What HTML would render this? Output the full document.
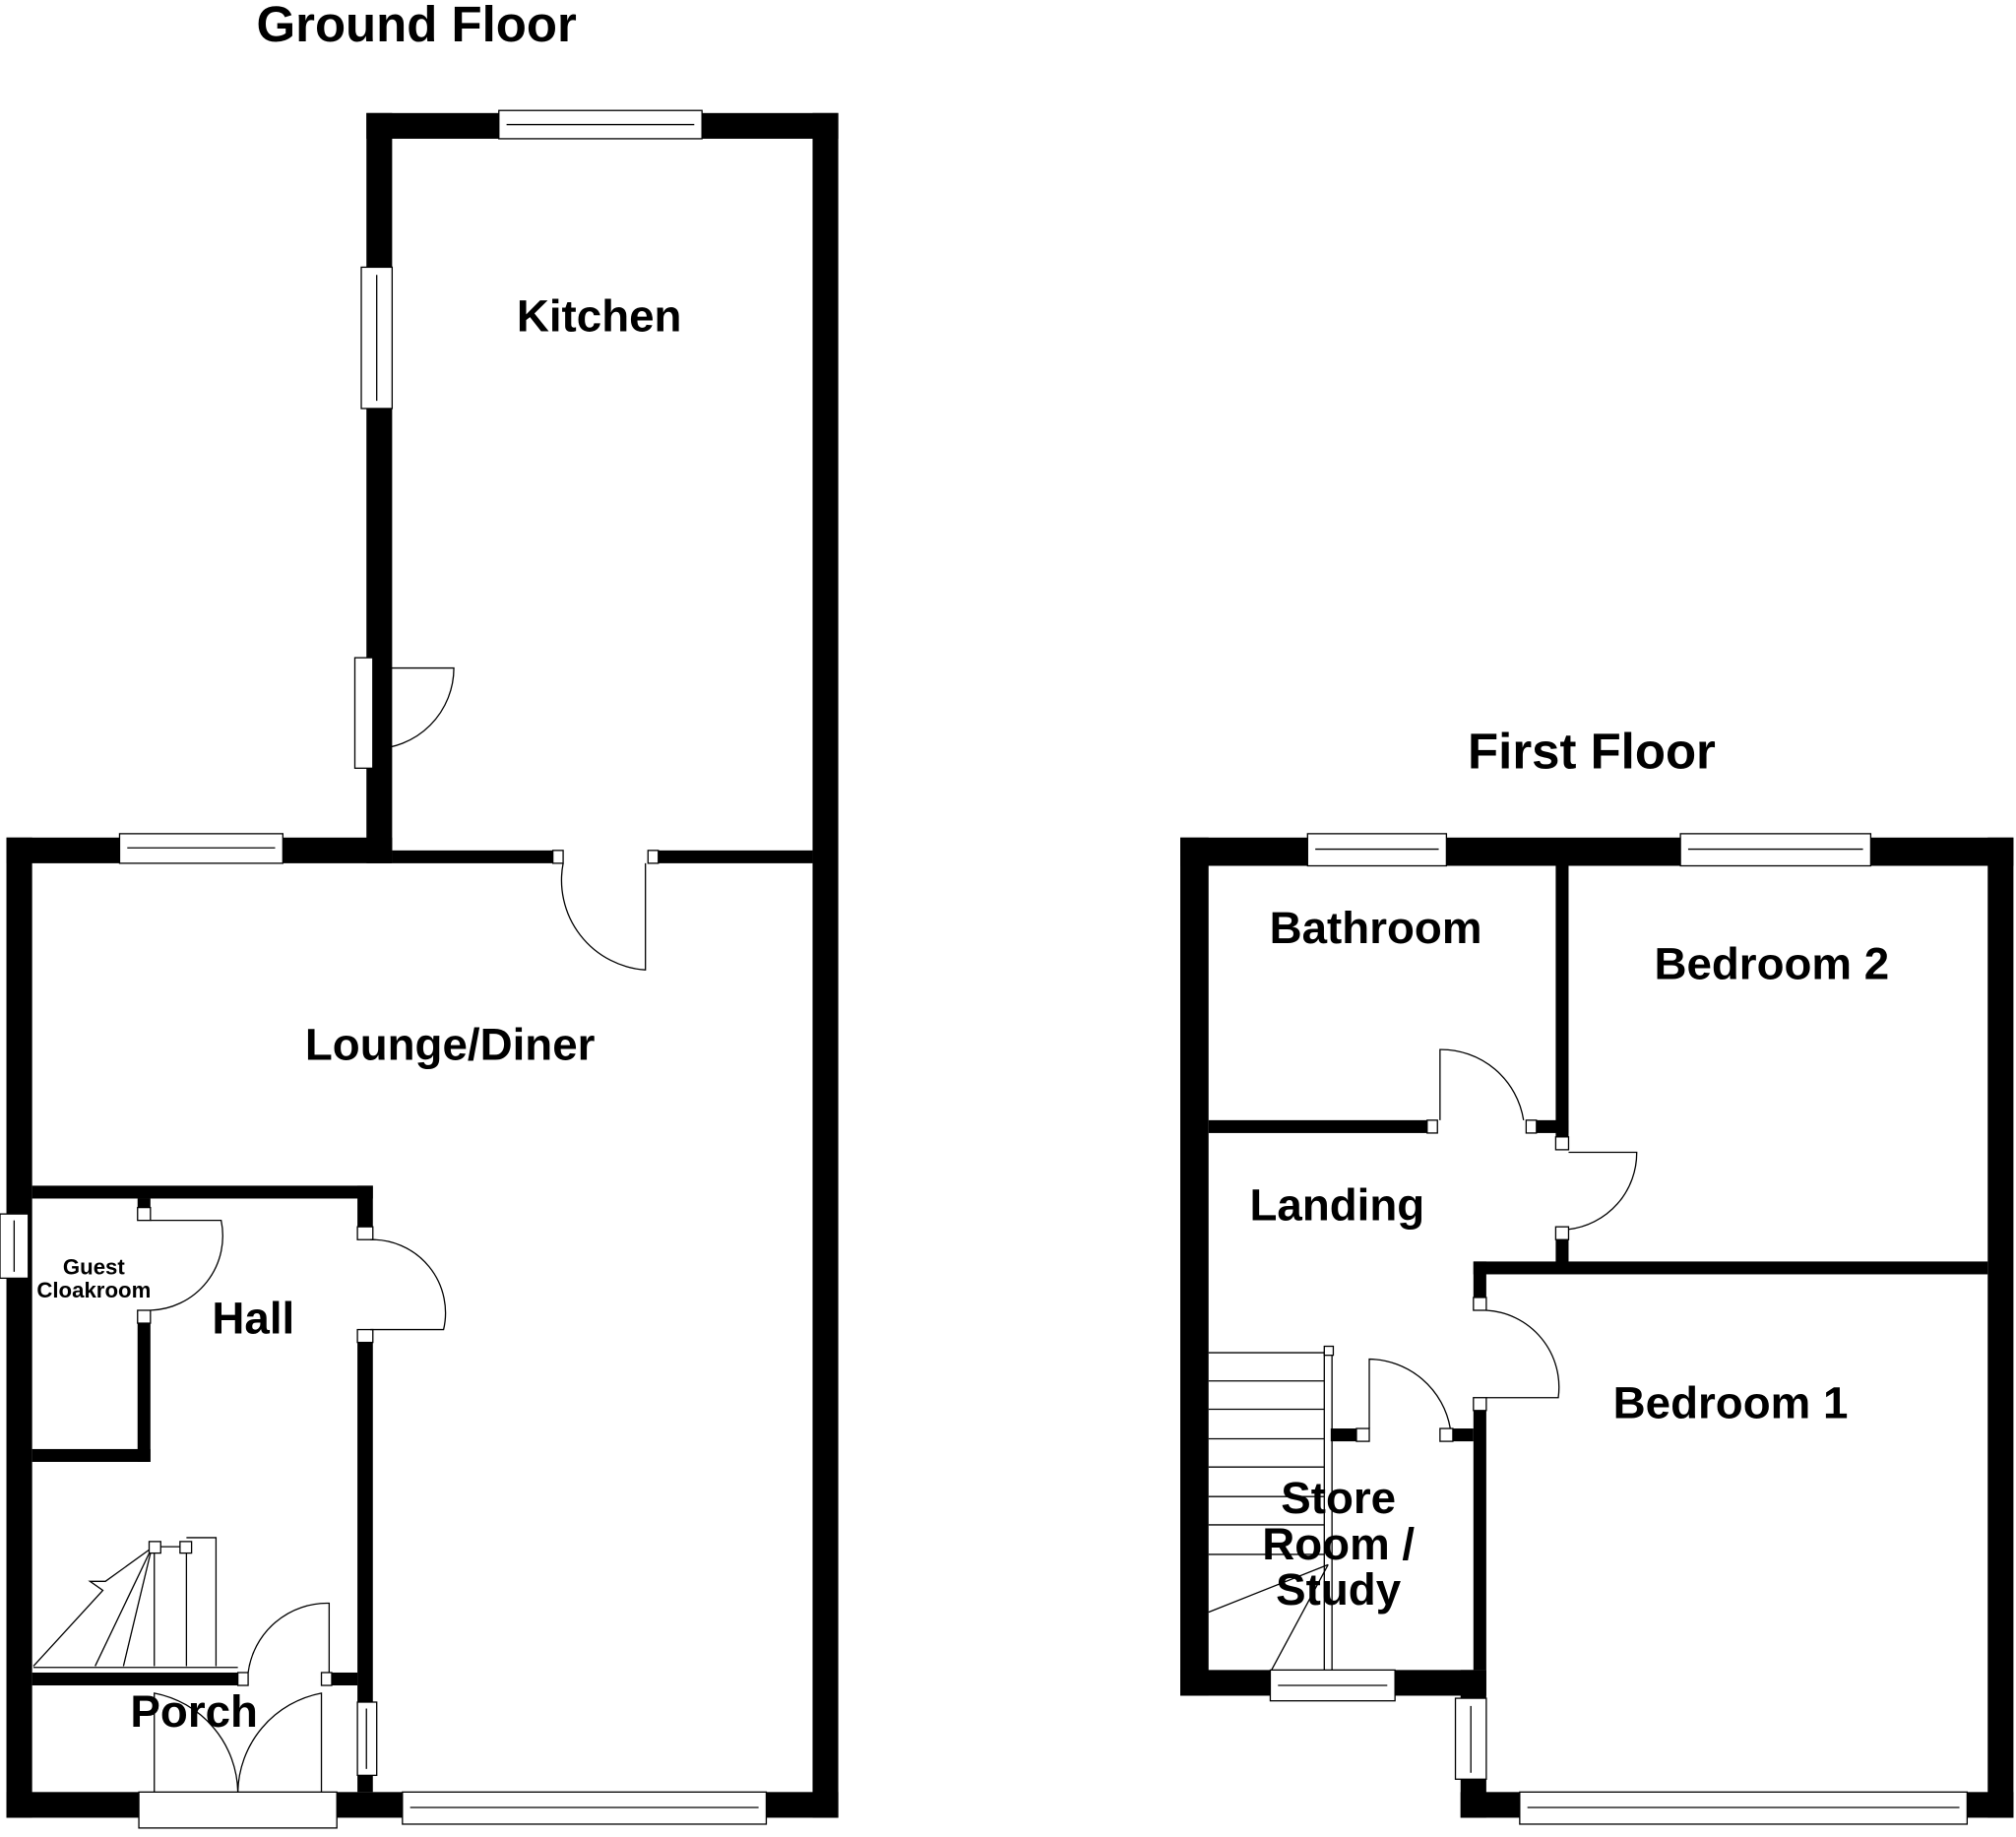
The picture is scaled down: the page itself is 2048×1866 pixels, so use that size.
<!DOCTYPE html>
<html><head><style>html,body{margin:0;padding:0;background:#fff}svg{display:block}text{font-family:"Liberation Sans",Arial,sans-serif;font-weight:bold;fill:#000}</style></head>
<body>
<svg width="2048" height="1866" viewBox="0 0 1568 1430" preserveAspectRatio="none" xmlns="http://www.w3.org/2000/svg">
<rect width="1568" height="1430" fill="#fff"/>
<g fill="#000">
<rect x="285" y="88" width="367" height="20"/>
<rect x="285" y="88" width="20" height="584"/>
<rect x="632" y="88" width="20" height="1327"/>
<rect x="5" y="652" width="300" height="20"/>
<rect x="5" y="652" width="20" height="763"/>
<rect x="5" y="1395" width="647" height="20"/>
<rect x="305" y="662" width="125" height="10"/>
<rect x="512" y="662" width="120" height="10"/>
<rect x="25" y="923" width="265" height="10"/>
<rect x="278" y="923" width="12" height="42"/>
<rect x="278" y="1035" width="12" height="360"/>
<rect x="107" y="933" width="10" height="17"/>
<rect x="107" y="1020" width="10" height="118"/>
<rect x="25" y="1128" width="92" height="10"/>
<rect x="25" y="1302" width="160" height="10"/>
<rect x="258" y="1302" width="20" height="10"/>
<rect x="918" y="652" width="648" height="22"/>
<rect x="918" y="652" width="22" height="668"/>
<rect x="1546" y="652" width="20" height="763"/>
<rect x="918" y="1300" width="238" height="20"/>
<rect x="1136" y="1300" width="20" height="115"/>
<rect x="1136" y="1395" width="430" height="20"/>
<rect x="1210" y="674" width="10" height="211"/>
<rect x="1210" y="965" width="10" height="20"/>
<rect x="940" y="872" width="170" height="10"/>
<rect x="1195" y="872" width="25" height="10"/>
<rect x="1146" y="982" width="400" height="10"/>
<rect x="1146" y="982" width="10" height="38"/>
<rect x="1146" y="1098" width="10" height="202"/>
<rect x="1035" y="1112" width="20" height="10"/>
<rect x="1130" y="1112" width="16" height="10"/>
</g>
<g fill="#fff" stroke="#000" stroke-width="1">
<rect x="388" y="86" width="158" height="22"/><line x1="394" y1="97" x2="540" y2="97"/>
<rect x="281" y="208" width="24" height="110"/><line x1="293" y1="214" x2="293" y2="312"/>
<rect x="276" y="512" width="14" height="86"/>
<rect x="93" y="649" width="127" height="23"/><line x1="99" y1="660" x2="214" y2="660"/>
<rect x="0" y="945" width="22" height="50"/><line x1="11" y1="950" x2="11" y2="990"/>
<rect x="108" y="1395" width="154" height="28"/>
<rect x="313" y="1395" width="283" height="25"/><line x1="319" y1="1407" x2="590" y2="1407"/>
<rect x="278" y="1325" width="15" height="57"/><line x1="285" y1="1330" x2="285" y2="1377"/>
<rect x="1017" y="649" width="108" height="25"/><line x1="1023" y1="661" x2="1119" y2="661"/>
<rect x="1307" y="649" width="148" height="25"/><line x1="1313" y1="661" x2="1449" y2="661"/>
<rect x="988" y="1300" width="97" height="24"/><line x1="994" y1="1312" x2="1079" y2="1312"/>
<rect x="1132" y="1322" width="24" height="63"/><line x1="1144" y1="1328" x2="1144" y2="1380"/>
<rect x="1182" y="1395" width="348" height="25"/><line x1="1188" y1="1407" x2="1524" y2="1407"/>
<rect x="430" y="662" width="8" height="10"/><rect x="504" y="662" width="8" height="10"/>
<rect x="278" y="955" width="12" height="10"/><rect x="278" y="1035" width="12" height="10"/>
<rect x="107" y="940" width="10" height="10"/><rect x="107" y="1020" width="10" height="10"/>
<rect x="185" y="1302" width="8" height="10"/><rect x="250" y="1302" width="8" height="10"/>
<rect x="1110" y="872" width="8" height="10"/><rect x="1187" y="872" width="8" height="10"/>
<rect x="1210" y="885" width="10" height="10"/><rect x="1210" y="955" width="10" height="10"/>
<rect x="1146" y="1010" width="10" height="10"/><rect x="1146" y="1088" width="10" height="10"/>
<rect x="1055" y="1112" width="10" height="10"/><rect x="1120" y="1112" width="10" height="10"/>
</g>
<g fill="none" stroke="#000" stroke-width="1">
<path d="M290 520 L353 520 A63 63 0 0 1 290 583"/>
<path d="M502 672 L502 755 A70 70 0 0 1 438 672"/>
<path d="M288 965 A57 57 0 0 1 345 1035 L288 1035"/>
<path d="M117 950 L172 950 A58 58 0 0 1 117 1020"/>
<path d="M193 1302 A62 62 0 0 1 256 1248 L256 1302"/>
<path d="M120 1395 L120 1318 A80 80 0 0 1 185 1395"/>
<path d="M250 1395 L250 1318 A80 80 0 0 0 185 1395"/>
<path d="M1120 872 L1120 817 A65 65 0 0 1 1185 872"/>
<path d="M1220 897 L1273 897 A60 60 0 0 1 1220 957"/>
<path d="M1156 1020 A60 60 0 0 1 1212 1088 L1156 1088"/>
<path d="M1065 1112 L1065 1058 A65 65 0 0 1 1128 1112"/>
<line x1="26" y1="1298" x2="185" y2="1298"/>
<path d="M118 1205 L82 1231 L70 1231 L80 1238 L26 1297"/>
<line x1="96" y1="1297" x2="118" y2="1205"/>
<line x1="74" y1="1297" x2="118" y2="1205"/>
<line x1="120" y1="1206" x2="120" y2="1297"/>
<line x1="145" y1="1206" x2="145" y2="1297"/>
<polyline points="145,1197 168,1197 168,1297"/>
<rect x="116" y="1200" width="9" height="9" fill="#fff"/>
<rect x="140" y="1200" width="9" height="9" fill="#fff"/>
<line x1="125" y1="1204" x2="140" y2="1204"/>
<line x1="1030" y1="1052" x2="1030" y2="1300"/>
<line x1="1036" y1="1052" x2="1036" y2="1300"/>
<rect x="1030" y="1048" width="7" height="7" fill="#fff"/>
<line x1="940" y1="1053" x2="1030" y2="1053"/>
<line x1="940" y1="1075" x2="1030" y2="1075"/>
<line x1="940" y1="1097" x2="1030" y2="1097"/>
<line x1="940" y1="1120" x2="1030" y2="1120"/>
<line x1="940" y1="1142" x2="1030" y2="1142"/>
<line x1="940" y1="1165" x2="1030" y2="1165"/>
<line x1="940" y1="1187" x2="1030" y2="1187"/>
<line x1="940" y1="1210" x2="1030" y2="1210"/>
<line x1="940" y1="1255" x2="1033" y2="1218"/>
<line x1="989" y1="1300" x2="1033" y2="1218"/>
</g>
<text x="324" y="32" font-size="39" text-anchor="middle">Ground Floor</text>
<text x="466" y="258" font-size="35" text-anchor="middle">Kitchen</text>
<text x="350" y="825" font-size="35" text-anchor="middle">Lounge/Diner</text>
<text x="197" y="1038" font-size="35" text-anchor="middle">Hall</text>
<text x="73" y="992" font-size="17" text-anchor="middle">Guest</text>
<text x="73" y="1010" font-size="17" text-anchor="middle">Cloakroom</text>
<text x="151" y="1344" font-size="35" text-anchor="middle">Porch</text>
<text x="1238" y="598" font-size="39" text-anchor="middle">First Floor</text>
<text x="1070" y="734" font-size="35" text-anchor="middle">Bathroom</text>
<text x="1378" y="762" font-size="35" text-anchor="middle">Bedroom 2</text>
<text x="1040" y="950" font-size="35" text-anchor="middle">Landing</text>
<text x="1346" y="1104" font-size="35" text-anchor="middle">Bedroom 1</text>
<text x="1041" y="1178" font-size="35" text-anchor="middle">Store</text>
<text x="1041" y="1214" font-size="35" text-anchor="middle">Room /</text>
<text x="1041" y="1249" font-size="35" text-anchor="middle">Study</text>
</svg>
</body></html>
